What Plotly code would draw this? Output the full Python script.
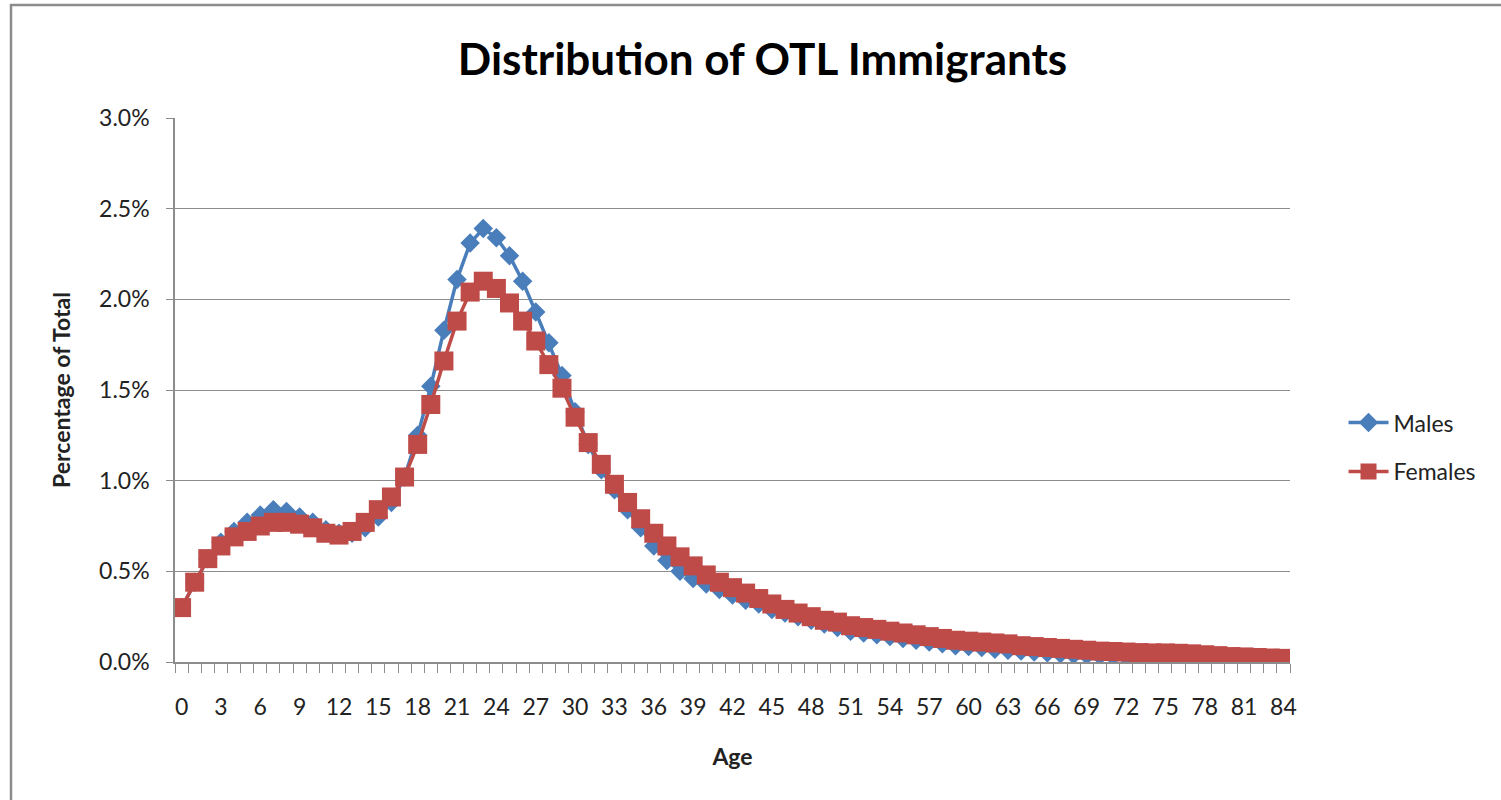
import plotly.graph_objects as go

ages = list(range(0, 85))

males_pct = [
    0.30, 0.44, 0.57, 0.66, 0.72, 0.77, 0.81, 0.84, 0.83, 0.80,
    0.77, 0.73, 0.71, 0.71, 0.74, 0.80, 0.88, 1.02, 1.25, 1.52,
    1.83, 2.11, 2.31, 2.39, 2.34, 2.24, 2.10, 1.93, 1.76, 1.58,
    1.38, 1.20, 1.06, 0.95, 0.84, 0.74, 0.64, 0.56, 0.50, 0.46,
    0.43, 0.40, 0.37, 0.34, 0.32, 0.29, 0.27, 0.25, 0.23, 0.21,
    0.19, 0.17, 0.16, 0.15, 0.14, 0.13, 0.12, 0.11, 0.10, 0.09,
    0.085, 0.08, 0.07, 0.065, 0.06, 0.055, 0.05, 0.045, 0.04, 0.038,
    0.035, 0.032, 0.03, 0.027, 0.025, 0.022, 0.02, 0.018, 0.015, 0.013,
    0.012, 0.01, 0.01, 0.008, 0.008,
]

females_pct = [
    0.30, 0.44, 0.57, 0.64, 0.69, 0.72, 0.75, 0.77, 0.77, 0.76,
    0.74, 0.71, 0.70, 0.72, 0.77, 0.84, 0.91, 1.02, 1.20, 1.42,
    1.66, 1.88, 2.04, 2.10, 2.06, 1.98, 1.88, 1.77, 1.64, 1.51,
    1.35, 1.21, 1.09, 0.98, 0.88, 0.79, 0.71, 0.64, 0.58, 0.53,
    0.48, 0.44, 0.41, 0.38, 0.35, 0.32, 0.29, 0.27, 0.25, 0.23,
    0.22, 0.20, 0.19, 0.18, 0.17, 0.16, 0.15, 0.14, 0.13, 0.12,
    0.115, 0.11, 0.105, 0.10, 0.09, 0.085, 0.08, 0.075, 0.07, 0.065,
    0.06, 0.058, 0.055, 0.052, 0.05, 0.05, 0.048, 0.045, 0.04, 0.035,
    0.03, 0.028, 0.025, 0.022, 0.02,
]

x_tick_vals = list(range(0, 85, 3))
x_tick_text = [str(v) for v in x_tick_vals]
y_tick_vals = [0.0, 0.005, 0.01, 0.015, 0.02, 0.025, 0.03]

FONT = "Lato, 'DejaVu Sans', sans-serif"
BLUE = "#4A7EBB"
RED = "#BE4B48"
GRID = "#8C8C8C"
TXT = "#222222"

fig = go.Figure()
fig.add_trace(go.Scatter(
    x=ages, y=[v / 100 for v in males_pct], name="Males", mode="lines+markers",
    line=dict(color=BLUE, width=3.5),
    marker=dict(symbol="diamond", size=15, color=BLUE),
    legendgroup="m",
))
fig.add_trace(go.Scatter(
    x=ages, y=[v / 100 for v in females_pct], name="Females", mode="lines+markers",
    line=dict(color=RED, width=3.5),
    marker=dict(symbol="square", size=19, color=RED),
    legendgroup="f",
))

fig.update_layout(
    width=1501, height=800,
    margin=dict(l=175, r=211, t=118, b=138),
    paper_bgcolor="white", plot_bgcolor="white",
    font=dict(family=FONT, size=22, color=TXT),
    title=dict(text="<b>Distribution of OTL Immigrants</b>", x=0.508, xanchor="center",
               y=0.925, yanchor="middle", font=dict(size=44, family=FONT, color="#000000")),
    showlegend=True,
    legend=dict(x=1.048, xanchor="left", y=0.395, yanchor="middle",
                font=dict(size=23, family=FONT, color=TXT), tracegroupgap=16,
                bgcolor="rgba(0,0,0,0)", itemwidth=40),
    xaxis=dict(
        range=[-0.5, 84.5], tickmode="array", tickvals=x_tick_vals, ticktext=x_tick_text,
        ticks="", showgrid=False, zeroline=False,
        showline=True, linecolor=GRID, linewidth=1.5,
        ticklabelstandoff=24, tickfont=dict(size=23, family=FONT, color=TXT),
        minor=dict(tickvals=[i - 0.5 for i in range(0, 86)], ticks="outside",
                   ticklen=9, tickcolor=GRID, tickwidth=1.2, showgrid=False),
        title=dict(text="<b>Age</b>", font=dict(size=23, family=FONT, color=TXT), standoff=30),
    ),
    yaxis=dict(
        range=[0, 0.03], tickmode="array", tickvals=y_tick_vals, tickformat=".1%",
        ticks="outside", ticklen=7, tickcolor=GRID,
        showgrid=True, gridcolor=GRID, gridwidth=1, zeroline=False,
        showline=True, linecolor=GRID, linewidth=1.5,
        ticklabelstandoff=12, tickfont=dict(size=23, family=FONT, color=TXT),
        title=dict(text="<b>Percentage of Total</b>", font=dict(size=23, family=FONT, color=TXT), standoff=22),
    ),
    shapes=[dict(type="rect", xref="paper", yref="paper",
                 x0=(11 - 175) / 1115, x1=(1520 - 175) / 1115,
                 y0=(662 - 820) / 544, y1=(662 - 5) / 544,
                 line=dict(color="#8C8C8C", width=2.5), fillcolor="rgba(0,0,0,0)", layer="below")],
)

fig.write_html("out.html", config={"displayModeBar": False},
               post_script="document.body.style.margin='0px';")
